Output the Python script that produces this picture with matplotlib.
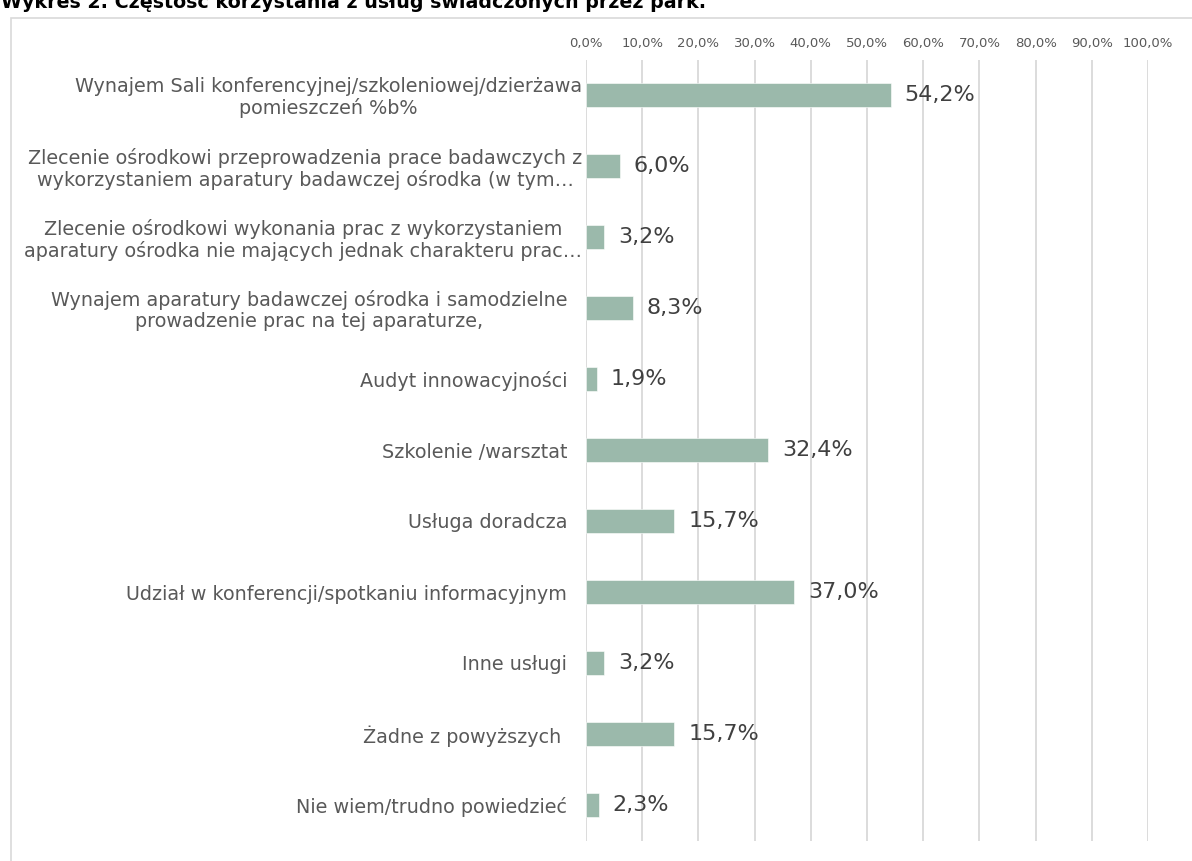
import matplotlib
matplotlib.use('Agg')
import matplotlib.pyplot as plt
import matplotlib.transforms as mtransforms
from matplotlib.patches import Rectangle
from matplotlib.ticker import FuncFormatter, MultipleLocator

plt.rcParams['font.family'] = ['DejaVu Sans']

categories = [
    'Wynajem Sali konferencyjnej/szkoleniowej/dzierżawa\npomieszczeń %b%',
    'Zlecenie ośrodkowi przeprowadzenia prace badawczych z\nwykorzystaniem aparatury badawczej ośrodka (w tym…',
    'Zlecenie ośrodkowi wykonania prac z wykorzystaniem\naparatury ośrodka nie mających jednak charakteru prac…',
    'Wynajem aparatury badawczej ośrodka i samodzielne\nprowadzenie prac na tej aparaturze,',
    'Audyt innowacyjności',
    'Szkolenie /warsztat',
    'Usługa doradcza',
    'Udział w konferencji/spotkaniu informacyjnym',
    'Inne usługi',
    'Żadne z powyższych ',
    'Nie wiem/trudno powiedzieć',
]
values = [54.2, 6.0, 3.2, 8.3, 1.9, 32.4, 15.7, 37.0, 3.2, 15.7, 2.3]
title = 'Wykres 2. Częstość korzystania z usług świadczonych przez park.'

W, H = 1192, 861
fig = plt.figure(figsize=(W / 100, H / 100), dpi=100)

# light outer frame of the chart area (runs off the right and bottom edges)
fig.patches.append(Rectangle((10.5 / W, -0.2), 1.5, 1 - 18 / H + 0.2,
                             transform=fig.transFigure, fill=False,
                             edgecolor='#d9d9d9', linewidth=1.2))

# title is cut by the top edge in the source picture
fig.text(1 / W, 1 - 7.5 / H, title, fontsize=13.7, fontweight='bold',
         color='black', va='baseline')

ax = fig.add_axes([586 / W, 1 - 840.5 / H, (1148 - 586) / W, (840.5 - 59.5) / H])

y = list(range(len(categories)))
ax.barh(y, values, height=0.35, color='#9bb9ab', edgecolor='white',
        linewidth=0.4, zorder=3)

for yi, v in zip(y, values):
    ax.annotate(f'{v:.1f}%'.replace('.', ','), (v, yi), xytext=(10, 0),
                textcoords='offset points', va='center', ha='left',
                fontsize=16, color='#404040', zorder=4)

ax.set_xlim(0, 100)
ax.set_ylim(len(categories) - 0.5, -0.5)
ax.xaxis.set_major_locator(MultipleLocator(10))
ax.xaxis.set_major_formatter(FuncFormatter(lambda v, p: f'{v:.1f}%'.replace('.', ',')))
ax.xaxis.tick_top()
ax.tick_params(axis='x', length=0, pad=7, labelsize=9.5, labelcolor='#595959')
ax.grid(axis='x', color='#d9d9d9', linewidth=1.3, zorder=0)

ax.set_yticks(y)
ax.set_yticklabels(categories)
ax.tick_params(axis='y', length=0, pad=13.5, labelsize=13.8, labelcolor='#595959')
for i, lbl in enumerate(ax.get_yticklabels()):
    lbl.set_multialignment('center')
    lbl.set_linespacing(1.1)
    if i < 3:
        # the widest wrapped labels reach almost to the axis
        lbl.set_transform(lbl.get_transform() +
                          mtransforms.ScaledTranslation(15 / 100, 0, fig.dpi_scale_trans))

for s in ax.spines.values():
    s.set_visible(False)

fig.savefig('out.png', dpi=100)
